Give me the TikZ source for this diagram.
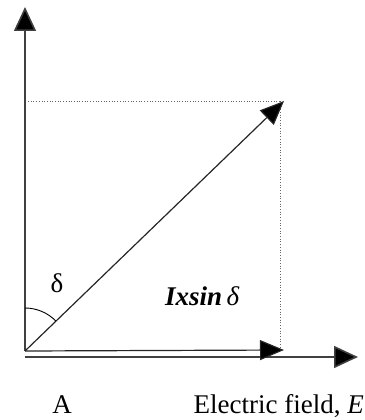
\documentclass[tikz,border=0pt]{standalone}
\usepackage{fontspec}
\setmainfont{Liberation Serif}
\usetikzlibrary{arrows.meta}
\begin{document}
\begin{tikzpicture}[x=1pt,y=-1pt,
  axis/.style={draw=black!75, line width=1.6pt, -{Triangle[length=24pt,width=22pt,fill=black]}},
  vec/.style={draw=black!85, line width=1.2pt, -{Triangle[length=24pt,width=20pt,fill=black]}},
  guide/.style={draw=black!60, line width=0.7pt, dotted},
  lbl/.style={inner sep=0pt, font=\fontsize{27}{30}\selectfont}]
\useasboundingbox (0,0) rectangle (364,420);
\coordinate (O) at (25,351);
\coordinate (Oh) at (25,357);
\coordinate (Ytip) at (25,7);
\coordinate (Xtip) at (358,357);
\coordinate (Itip) at (284,350);
\coordinate (Dtip) at (284,101);
\coordinate (Dy) at (28,101);
\coordinate (Dx) at (280,101);
\coordinate (Dxb) at (280,350);
\draw[guide] (Dy) -- (Dx);
\draw[guide] (Dx) -- (Dxb);
\draw[axis] (Oh) -- (Xtip);
\draw[axis] (O) -- (Ytip);
\draw[vec] (O) -- (Itip);
\draw[vec] (O) -- (Dtip);
\draw[line width=0.9pt] ([yshift=43pt]O) arc[start angle=90, end angle=44, radius=43pt];
\node[lbl, anchor=base] (delta) at (57,292) {δ};
\node[lbl, anchor=base west] (ix) at (165,305) {\textbf{\textit{Ixsin}}\,\textit{δ}};
\node[lbl, anchor=base] (A) at (62,413) {A};
\node[lbl, anchor=base east] (E) at (364,413) {Electric field, \textit{E}};
\end{tikzpicture}
\end{document}
